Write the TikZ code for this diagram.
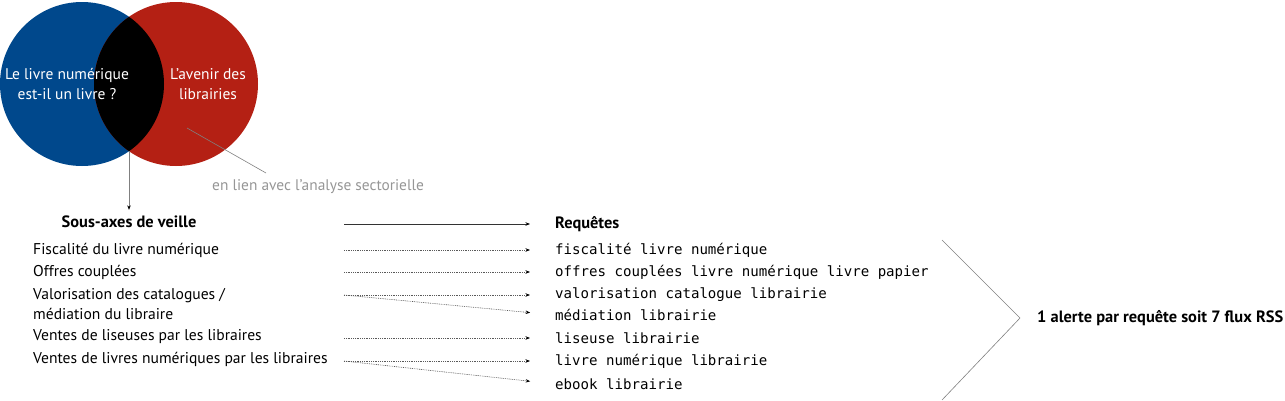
\documentclass[tikz,border=0pt]{standalone}
\usepackage{fontspec}
\setmainfont{PT Sans}
\setmonofont{DejaVu Sans Mono}
\usetikzlibrary{arrows.meta}
\definecolor{vblue}{RGB}{0,72,140}
\definecolor{vred}{RGB}{180,32,20}
\definecolor{notegray}{RGB}{150,150,150}
\begin{document}
\begin{tikzpicture}[x=1pt,y=-1pt,
  lbl/.style={font=\fontsize{15.6}{20}\selectfont, inner sep=0pt, anchor=west},
  head/.style={font=\fontsize{16.4}{20}\selectfont\bfseries, inner sep=0pt},
  req/.style={font=\fontsize{14.1}{20}\ttfamily, inner sep=0pt, anchor=west},
  circtxt/.style={font=\fontsize{15.5}{20}\selectfont, text=white, align=center, inner sep=0pt},
  tip/.style={-{Stealth[length=4.5pt,width=3.5pt,color=black]}},
  dotarrow/.style={tip, draw=black!65, line width=0.6pt, dash pattern=on 0.9pt off 0.9pt},
  solidarrow/.style={tip, draw=black!80, line width=0.7pt},
  thin gray/.style={draw=black!50, line width=0.6pt}]
\useasboundingbox (0,0) rectangle (1285,400);
% Venn circles
\fill[vblue] (82,84) circle[radius=82];
\fill[vred] (176,84) circle[radius=82];
\begin{scope}
  \clip (82,84) circle[radius=82];
  \fill[black] (176,84) circle[radius=82];
\end{scope}
\node[circtxt] (cb) at (67,84) {Le livre numérique\\est-il un livre ?};
\node[circtxt] (cr) at (208,84) {L’avenir des\\librairies};
% annotation
\coordinate (redpt) at (187,128);
\coordinate (ann) at (266,173);
\draw[thin gray] (redpt) -- (ann);
\node[font=\fontsize{15.4}{20}\selectfont, text=notegray, inner sep=0pt, anchor=west] (note) at (212,187) {en lien avec l’analyse sectorielle};
% left column
\coordinate (lensbot) at (129,151);
\node[head] (sa) at (129,222) {Sous-axes de veille};
\draw[thin gray, tip] (lensbot) -- ([yshift=6pt]sa.north);
\node[lbl] (l1) at (33,250) {Fiscalité du livre numérique};
\node[lbl] (l2) at (33,272) {Offres couplées};
\node[lbl, align=left] (l3) at (33,304) {Valorisation des catalogues /\\médiation du libraire};
\node[lbl] (l4) at (33,337) {Ventes de liseuses par les libraires};
\node[lbl] (l5) at (33,359) {Ventes de livres numériques par les libraires};
% right column
\node[head, anchor=west] (rq) at (555,224) {Requêtes};
\node[req] (r1) at (555,250) {fiscalité livre numérique};
\node[req] (r2) at (555,272) {offres couplées livre numérique livre papier};
\node[req] (r3) at (555,295) {valorisation catalogue librairie};
\node[req] (r4) at (555,315) {médiation librairie};
\node[req] (r5) at (555,338) {liseuse librairie};
\node[req] (r6) at (555,361) {livre numérique librairie};
\node[req] (r7) at (555,384) {ebook librairie};
% arrows
\coordinate (sx) at (344,0);
\draw[solidarrow, shorten >=25pt] (sx |- rq.west) -- (rq.west);
\draw[dotarrow, shorten >=25pt] (sx |- r1.west) -- (r1.west);
\draw[dotarrow, shorten >=25pt] (sx |- r2.west) -- (r2.west);
\draw[dotarrow, shorten >=25pt] (sx |- r3.west) -- (r3.west);
\draw[dotarrow, shorten >=25pt] (sx |- r3.west) -- (r4.west);
\draw[dotarrow, shorten >=25pt] (sx |- r5.west) -- (r5.west);
\draw[dotarrow, shorten >=25pt] (sx |- r6.west) -- (r6.west);
\draw[dotarrow, shorten >=25pt] (sx |- r6.west) -- (r7.west);
% chevron and result
\coordinate (ctop) at (942,240);
\coordinate (capex) at (1020,318);
\coordinate (cbot) at (942,400);
\draw[thin gray] (ctop) -- (capex) -- (cbot);
\node[head, anchor=west] (res) at (1037,318) {1 alerte par requête soit 7 flux RSS};
\end{tikzpicture}
\end{document}
